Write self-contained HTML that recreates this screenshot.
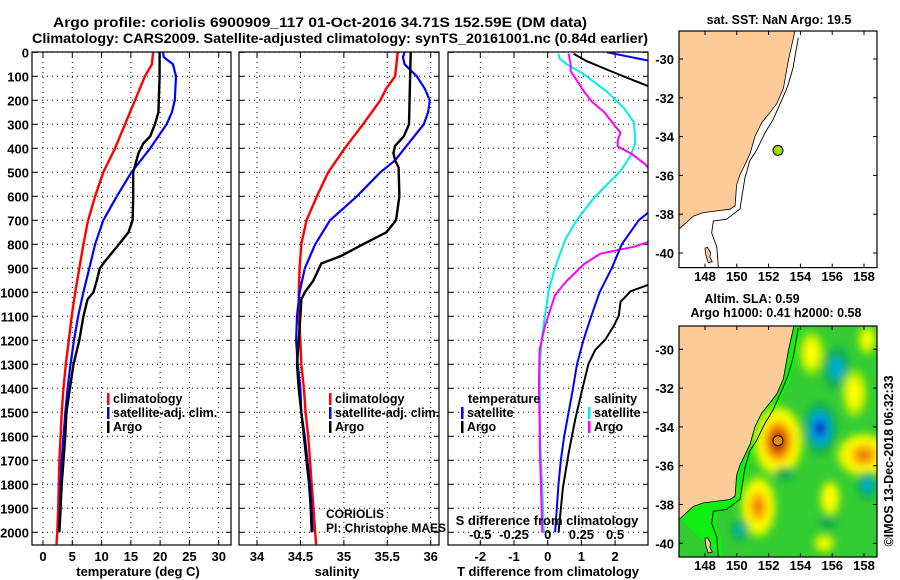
<!DOCTYPE html>
<html><head><meta charset="utf-8"><style>
html,body{margin:0;padding:0;background:#fff}
svg{display:block}
text{font-family:"Liberation Sans",sans-serif;font-weight:bold;fill:#000}
</style></head><body>
<svg id="fig" width="900" height="580" viewBox="0 0 900 580" xmlns="http://www.w3.org/2000/svg">
<defs>
<clipPath id="cp1"><rect x="32" y="52" width="199" height="493"/></clipPath>
<clipPath id="cp2"><rect x="239" y="52" width="200" height="493"/></clipPath>
<clipPath id="cp3"><rect x="448" y="52" width="200" height="493"/></clipPath>
<clipPath id="cpm1"><rect x="679" y="31" width="198" height="237"/></clipPath>
<clipPath id="cpm2"><rect x="679" y="326" width="198" height="231"/></clipPath>
<filter id="blur" x="-50%" y="-50%" width="200%" height="200%"><feGaussianBlur stdDeviation="4"/></filter>
</defs>
<text x="53" y="27" font-size="14" textLength="534" lengthAdjust="spacingAndGlyphs">Argo profile: coriolis 6900909_117 01-Oct-2016 34.71S 152.59E (DM data)</text>
<text x="32" y="43" font-size="14" textLength="616" lengthAdjust="spacingAndGlyphs">Climatology: CARS2009. Satellite-adjusted climatology: synTS_20161001.nc (0.84d earlier)</text>
<g id="g"></g>
</svg>
<script>
// ---- temperature profiles ----
const tClimDepth=[0,50,100,200,300,400,500,600,700,800,900,1000,1100,1200,1300,1400,1500,1600,1700,1800,1900,2000,2050];
const tClimVal=[18.8,18.6,17.4,15.7,14,12.3,10.3,8.9,7.7,6.9,6.2,5.5,4.9,4.4,3.9,3.5,3.2,3.0,2.8,2.7,2.6,2.45,2.3];
const tSatDepth=[0,20,50,100,200,250,300,400,500,600,700,800,900,1000,1100,1200,1300,1400,1500,1600,1700,1800,1900,2000];
const tSatVal=[20.5,20.6,22.2,22.7,22.5,22,21.1,18.3,15.1,12.6,10.3,8.9,7.9,6.9,6.0,5.3,4.7,4.2,3.8,3.5,3.2,3.0,2.9,2.7];
const tArgoDepth=[0,100,250,300,350,380,420,500,600,700,750,820,870,900,950,1000,1030,1100,1200,1300,1400,1500,1600,1700,1800,1900,2000];
const tArgoVal=[19.9,19.9,19.7,19.1,18.3,17.1,16.3,15.4,15.4,15.3,14.6,12.3,10.6,9.7,9.2,8.6,7.6,6.9,6.2,5.2,4.6,4.0,3.8,3.5,3.2,3.0,2.8];
// ---- salinity profiles ----
const sClimDepth=[0,100,150,200,300,400,500,600,700,800,900,1000,1100,1200,1300,1400,1500,1600,1700,1800,1900,2000,2050];
const sClimVal=[35.62,35.59,35.49,35.42,35.22,35.01,34.82,34.69,34.57,34.51,34.49,34.48,34.48,34.5,34.51,34.54,34.56,34.59,34.61,34.63,34.65,34.67,34.68];
const sSatDepth=[0,20,50,100,150,200,250,300,400,450,500,600,700,800,900,1000,1100,1200,1300,1400,1500,1600,1700,1800,1900,2000];
const sSatVal=[35.70,35.68,35.70,35.84,35.93,35.99,35.97,35.92,35.70,35.59,35.42,35.15,34.84,34.67,34.55,34.49,34.46,34.45,34.47,34.50,34.51,34.55,34.58,34.61,34.63,34.64];
const sArgoDepth=[0,300,350,390,420,450,480,600,700,750,800,850,880,950,1000,1030,1100,1200,1300,1400,1500,1600,1700,1800,1900,2000];
const sArgoVal=[35.77,35.75,35.69,35.59,35.57,35.59,35.63,35.64,35.60,35.49,35.22,34.96,34.74,34.65,34.55,34.51,34.50,34.48,34.46,34.48,34.51,34.54,34.57,34.60,34.62,34.63];
// ---- differences from climatology ----
const dTSatDepth=[0,35,100,300,500,666,700,800,900,1000,1100,1200,1300,1400,1500,1600,1700,1800,1900,2000];
const dTSatVal=[1.76,3.0,5.3,7.0,4.8,3.0,2.7,2.2,1.9,1.54,1.29,1.06,0.87,0.75,0.62,0.49,0.39,0.32,0.27,0.22];
const dTArgoDepth=[6,37,78,142,300,500,700,800,968,996,1040,1097,1140,1197,1240,1298,1384,1528,1671,1815,1959,2002];
const dTArgoVal=[0.77,1.16,1.86,3.0,5.1,5.1,7.6,5.4,3.0,2.46,2.16,2.11,1.96,1.71,1.41,1.21,1.06,0.82,0.62,0.45,0.35,0.32];
const dSSatDepth=[6,27,49,92,164,235,293,379,436,494,551,609,695,781,896,996,1097,1197,1312,1528,1671,1815,2002];
const dSSatVal=[0.08,0.09,0.14,0.27,0.44,0.57,0.64,0.65,0.61,0.54,0.44,0.34,0.22,0.13,0.055,0.005,-0.02,-0.045,-0.058,-0.058,-0.053,-0.04,-0.028];
const dSArgoDepth=[6,49,78,121,164,207,250,307,336,365,393,422,465,491,600,700,788,810,839,882,953,1011,1097,1140,1240,1384,1528,1671,1815,2002];
const dSArgoVal=[0.155,0.17,0.17,0.22,0.27,0.33,0.42,0.5,0.54,0.52,0.52,0.62,0.72,0.76,0.95,1.03,0.76,0.64,0.39,0.27,0.14,0.055,0.005,-0.02,-0.06,-0.065,-0.06,-0.058,-0.05,-0.04];
// ---- tick labels ----
const depthTicks=[0,100,200,300,400,500,600,700,800,900,1000,1100,1200,1300,1400,1500,1600,1700,1800,1900,2000];
const tTicks=[0,5,10,15,20,25,30];
const sTicks=[34,34.5,35,35.5,36];
const dTTicks=[-2,-1,0,1,2];
const dSTicks=[-0.5,-0.25,0,0.25,0.5];
const lonTicks=[148,150,152,154,156,158];
const latTicks=[-30,-32,-34,-36,-38,-40];
// ---- map data ----
const argoLon=152.59, argoLat=-34.71;
const coastLon=[153.66,153.24,152.93,152.51,152.09,151.56,151.14,150.83,150.52,150.2,149.99,149.89,149.57,147.9,147.27,146.43];
const coastLat=[-28.54,-30.09,-31.51,-32.31,-32.76,-33.29,-34.0,-34.89,-35.43,-35.96,-36.49,-37.56,-37.74,-37.92,-38.1,-38.72];
const isoLon=[153.87,153.54,153.23,152.92,152.29,151.77,151.24,150.82,150.51,150.3,150.2,149.36,148.52,148.42,148.74,148.84];
const isoLat=[-28.9,-30.44,-31.33,-31.95,-33.11,-33.82,-34.71,-35.24,-36.13,-37.19,-37.73,-38.26,-38.35,-38.97,-39.68,-40.8];
const islandLon=[148.0,148.15,148.35,148.3,148.45,148.2,148.05];
const islandLat=[-39.75,-39.7,-40.0,-40.2,-40.45,-40.5,-40.1];
const slaLon=[152.6,154.7,156.28,157.4,155.23,157.99,158.2,151.35,155.86,150.2,158.2,153.0,155.7,155.5];
const slaLat=[-34.75,-30.2,-30.98,-32.27,-34.07,-35.45,-37.0,-38.11,-37.68,-39.3,-29.5,-36.4,-38.95,-40.0];
const slaRx=[1.1,0.75,0.65,0.75,0.7,1.3,0.5,0.85,0.55,0.45,0.6,0.9,0.8,0.7];
const slaRy=[1.3,1.1,0.85,1.2,0.9,0.85,0.55,1.2,0.8,0.5,0.8,0.5,0.5,0.5];
const slaVal=[0.59,0.22,-0.25,0.22,-0.42,0.45,-0.25,0.45,0.3,-0.2,0.2,-0.08,-0.08,0.2];

const NS='http://www.w3.org/2000/svg';
const G=document.getElementById('g');
function mk(tag,attrs,parent){const e=document.createElementNS(NS,tag);for(const k in attrs)e.setAttribute(k,attrs[k]);(parent||G).appendChild(e);return e;}
const yD=d=>52.3+d*0.24;
const xT=t=>43+t*5.857;
const xS=s=>257+(s-34)*86.85;
const xDT=t=>547.7+t*33.7;
const xDS=s=>547.7+s*134.8;

function panel(x0,w,clip,vt,xf,name){
  const grp=mk('g',{});
  
  
  depthTicks.forEach(d=>{const l=mk('line',{x1:x0,x2:x0+w,y1:yD(d),y2:yD(d),stroke:'#000','stroke-width':1,'stroke-dasharray':'1,4'},grp);
    
    mk('line',{x1:x0,x2:x0+5,y1:yD(d),y2:yD(d),stroke:'#000'},grp);mk('line',{x1:x0+w-5,x2:x0+w,y1:yD(d),y2:yD(d),stroke:'#000'},grp);});
  vt.forEach(v=>{const l=mk('line',{x1:xf(v),x2:xf(v),y1:52,y2:545,stroke:'#000','stroke-width':1,'stroke-dasharray':'1,4'},grp);
    
    mk('line',{x1:xf(v),x2:xf(v),y1:540,y2:545,stroke:'#000'},grp);mk('line',{x1:xf(v),x2:xf(v),y1:52,y2:57,stroke:'#000'},grp);});
  return grp;
}
function series(dep,val,xf,color,w,clip,name){
  const p=dep.map((d,i)=>xf(val[i]).toFixed(1)+','+yD(d).toFixed(1)).join(' ');
  const e=mk('polyline',{points:p,fill:'none',stroke:color,'stroke-width':w,'clip-path':'url(#'+clip+')','stroke-linejoin':'round'});
  
  
}
function txt(x,y,s,size,anchor,name,weight){const e=mk('text',{x:x,y:y,'font-size':size,'text-anchor':anchor||'start'});if(weight)e.setAttribute('font-weight',weight);e.textContent=s;
  
  return e;}
function frame(x,y,w,h,name){const e=mk('rect',{x:x,y:y,width:w,height:h,fill:'none',stroke:'#000','stroke-width':1.2});
  
  }

// panel 1
panel(32,199,'cp1',tTicks,xT,'temperature-grid');
series(tClimDepth,tClimVal,xT,'#ff0000',2.4,'cp1','temperature-climatology-line');
series(tSatDepth,tSatVal,xT,'#0000ff',2.2,'cp1','temperature-satellite-line');
series(tArgoDepth,tArgoVal,xT,'#000000',2.4,'cp1','temperature-argo-line');
frame(32,52,199,493,'temperature-panel-frame');
depthTicks.forEach(d=>txt(29,yD(d)+5,String(d),13,'end','depth-tick-label'));
tTicks.forEach(t=>txt(xT(t),561,String(t),13,'middle','temperature-tick-label'));
txt(138,576,'temperature (deg C)',13,'middle','temperature-axis-title');
// panel 2
panel(239,200,'cp2',sTicks,xS,'salinity-grid');
series(sClimDepth,sClimVal,xS,'#ff0000',2.4,'cp2','salinity-climatology-line');
series(sSatDepth,sSatVal,xS,'#0000ff',2.2,'cp2','salinity-satellite-line');
series(sArgoDepth,sArgoVal,xS,'#000000',2.4,'cp2','salinity-argo-line');
frame(239,52,200,493,'salinity-panel-frame');
sTicks.forEach(s=>txt(xS(s),561,String(s),13,'middle','salinity-tick-label'));
txt(337,576,'salinity',13,'middle','salinity-axis-title');
txt(326,518,'CORIOLIS',12,'start','coriolis-label','normal');
txt(326,532,'PI: Christophe MAES',12,'start','pi-label','normal');
// panel 3
panel(448,200,'cp3',dTTicks,xDT,'difference-grid');
series(dSSatDepth,dSSatVal,xDS,'#00eeee',2,'cp3','salinity-satellite-diff-line');
series(dSArgoDepth,dSArgoVal,xDS,'#ff00ff',2,'cp3','salinity-argo-diff-line');
series(dTSatDepth,dTSatVal,xDT,'#0000ff',2,'cp3','temperature-satellite-diff-line');
series(dTArgoDepth,dTArgoVal,xDT,'#000000',2,'cp3','temperature-argo-diff-line');
frame(448,52,200,493,'difference-panel-frame');
dTTicks.forEach(t=>txt(xDT(t),561,String(t),13,'middle','t-diff-tick-label'));
txt(548,576,'T difference from climatology',13,'middle','t-diff-axis-title');
txt(547,525,'S difference from climatology',13,'middle','s-diff-axis-title');
dSTicks.forEach(s=>txt(xDS(s),539,String(s),13,'middle','s-diff-tick-label'));

// legends
function legend(x,y,items,name){
  items.forEach((it,i)=>{
    const r=mk('rect',{x:x,y:y+i*14-10,width:2.5,height:12,fill:it[1]});
    
    txt(x+6,y+i*14,it[0],12.5,'start',name+'-label');
  });
}
legend(107,403,[['climatology','#ff0000'],['satellite-adj. clim.','#0000ff'],['Argo','#000']],'temperature-legend');
legend(329,403,[['climatology','#ff0000'],['satellite-adj. clim.','#0000ff'],['Argo','#000']],'salinity-legend');
txt(468,403,'temperature',12.5,'start','diff-legend-temperature-title');
legend(461,417,[['satellite','#0000ff'],['Argo','#000']],'diff-legend-temperature');
txt(594,403,'salinity',12.5,'start','diff-legend-salinity-title');
legend(588,417,[['satellite','#00eeee'],['Argo','#ff00ff']],'diff-legend-salinity');

// ---- maps ----
const xL=l=>705+(l-148)*15.9;
function mapAxes(top,bottom,lat30,labelY,name){
  const yL=l=>lat30+(-30-l)*19.4;
  latTicks.forEach(l=>{txt(674,yL(l)+5,String(l),13,'end',name+'-lat-label');mk('line',{x1:679,x2:683,y1:yL(l),y2:yL(l),stroke:'#000'});mk('line',{x1:873,x2:877,y1:yL(l),y2:yL(l),stroke:'#000'});});
  lonTicks.forEach(l=>{txt(xL(l),labelY,String(l),13,'middle',name+'-lon-label');mk('line',{x1:xL(l),x2:xL(l),y1:bottom-4,y2:bottom,stroke:'#000'});mk('line',{x1:xL(l),x2:xL(l),y1:top,y2:top+4,stroke:'#000'});});
  return yL;
}
function pts(lons,lats,yL){return lons.map((l,i)=>xL(l).toFixed(1)+','+yL(lats[i]).toFixed(1));}
function drawMap(top,bottom,lat30,clip,labelY,name,sla){
  const yL=l=>lat30+(-30-l)*19.4;
  const grp=mk('g',{'clip-path':'url(#'+clip+')'});
  
  mk('rect',{x:679,y:top,width:198,height:bottom-top,fill:sla?'#33cc33':'#fff'},grp);
  if(sla){
    // coastal bright strip
    const strip=pts(coastLon,coastLat,yL).concat(pts(isoLon,isoLat,yL).reverse().map(p=>{const [a,b]=p.split(',');return (parseFloat(a)+4)+','+b;}));
    mk('polygon',{points:strip.join(' '),fill:'#11ee11'},grp);
    const bl=mk('g',{filter:'url(#blur)'},grp);
    
    const posL=[[0.08,'#aaee00'],[0.15,'#ffff00'],[0.3,'#ffaa00'],[0.42,'#dd6600'],[0.52,'#bb2200']];
    const negL=[[0.05,'#11aa55'],[0.15,'#00bbbb'],[0.22,'#0099ee'],[0.33,'#0033cc'],[0.4,'#000099']];
    slaVal.forEach((v,i)=>{
      const lv=v>0?posL:negL;const a=Math.abs(v);
      lv.forEach(([L,c])=>{if(a<=L)return;const k=Math.sqrt(2*Math.log(a/L))/1.4;
        const e=mk('ellipse',{cx:xL(slaLon[i]),cy:yL(slaLat[i]),rx:slaRx[i]*15.9*k,ry:slaRy[i]*19.4*k,fill:c},bl);
        });
    });
  }
  const land=pts(coastLon,coastLat,yL).concat(['679,'+yL(coastLat[coastLat.length-1]).toFixed(1),'679,'+top,xL(coastLon[0]).toFixed(1)+','+top]);
  const lp=mk('polygon',{points:land.join(' '),fill:'#fdcb98',stroke:'#000','stroke-width':0.8},grp);
  
  const isl=mk('polygon',{points:pts(islandLon,islandLat,yL).join(' '),fill:'#fdcb98',stroke:'#000','stroke-width':0.8},grp);
  
  const iso=mk('polyline',{points:pts(isoLon,isoLat,yL).join(' '),fill:'none',stroke:'#000','stroke-width':0.9},grp);
  
  const pt=mk('circle',{cx:xL(argoLon),cy:yL(argoLat),r:5,fill:sla?'#ee8800':'#99dd00',stroke:'#000','stroke-width':1});
  
  frame(679,top,198,bottom-top,name+'-frame');
  mapAxes(top,bottom,lat30,labelY,name);
}
drawMap(31,267.6,59,'cpm1',281,'sst-map',false);
drawMap(326,557,349.3,'cpm2',570,'sla-map',true);
txt(779,24,'sat. SST: NaN Argo: 19.5',12.5,'middle','sst-map-title');
txt(752,303,'Altim. SLA: 0.59',12.5,'middle','sla-map-title');
txt(776,317,'Argo h1000: 0.41 h2000: 0.58',12.5,'middle','sla-map-subtitle');
const cr=txt(0,0,'©IMOS 13-Dec-2018 06:32:33',12.5,'middle','imos-timestamp','normal');
cr.setAttribute('transform','translate(893,461) rotate(-90)');
</script>
</body></html>
